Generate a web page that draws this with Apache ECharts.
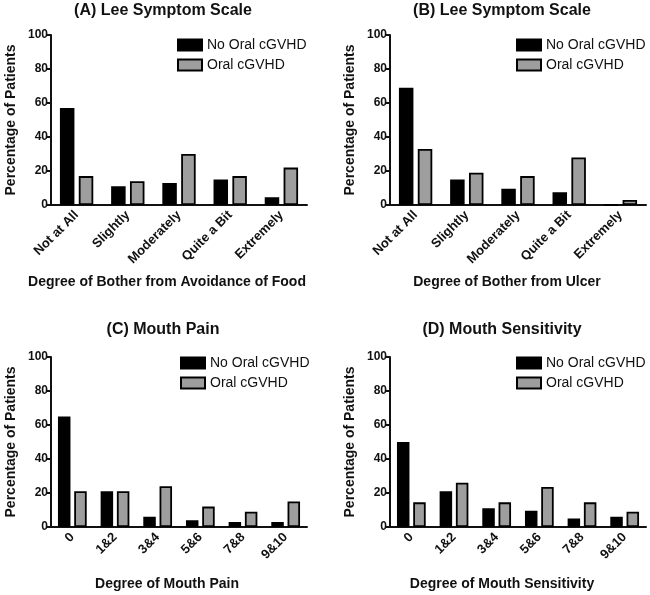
<!DOCTYPE html>
<html>
<head>
<meta charset="utf-8">
<script src="https://cdn.jsdelivr.net/npm/echarts@6/dist/echarts.min.js"></script>
<style>
html,body{margin:0;padding:0;background:#fff;}
#c{width:650px;height:595px;}
</style>
</head>
<body>
<div id="c"></div>
<script>
// ---- data ----
var catsBother = ['Not at All', 'Slightly', 'Moderately', 'Quite a Bit', 'Extremely'];
var catsScale = ['0', '1&2', '3&4', '5&6', '7&8', '9&10'];
var yTicks = [0, 20, 40, 60, 80, 100];

var foodNoOral = [57, 11, 13, 15, 4.5];
var foodOral = [17, 14, 30, 17, 22];
var ulcerNoOral = [69, 15, 9.5, 7.5, 0];
var ulcerOral = [33, 19, 17, 28, 3];
var painNoOral = [65, 21, 6, 4, 3, 3];
var painOral = [21, 21, 24, 12, 9, 15];
var sensNoOral = [50, 21, 11, 9.5, 5, 6];
var sensOral = [14.5, 26, 14.5, 23.5, 14.5, 9];

var seriesNames = ['No Oral cGVHD', 'Oral cGVHD'];
var panelTitles = ['(A) Lee Symptom Scale', '(B) Lee Symptom Scale', '(C) Mouth Pain', '(D) Mouth Sensitivity'];
var xNames = ['Degree of Bother from Avoidance of Food', 'Degree of Bother from Ulcer', 'Degree of Mouth Pain', 'Degree of Mouth Sensitivity'];
var yName = 'Percentage of Patients';

// ---- layout ----
var FONT = '"Liberation Sans", Arial, sans-serif';
var grids = [
  {left: 51, top: 35, width: 256, height: 170},
  {left: 390, top: 35, width: 256, height: 170},
  {left: 51, top: 357, width: 256, height: 170},
  {left: 390, top: 357, width: 256, height: 170}
];
var panelCats = [catsBother, catsBother, catsScale, catsScale];
var panelData = [[foodNoOral, foodOral], [ulcerNoOral, ulcerOral], [painNoOral, painOral], [sensNoOral, sensOral]];
var titleX = [163, 502, 163, 502];
var titleY = [3, 3, 322, 322];
var xNameX = [167, 507, 167, 502];
var xNameY = [275, 275, 577, 577];
var legendPos = [[177, 38], [516, 38], [180, 356], [516, 356]];
var barW = [14.5, 14.5, 12.5, 12.5];
var colors = ['#000000', '#9e9e9e'];

var titles = [], xAxes = [], yAxes = [], series = [], legends = [];
for (var i = 0; i < 4; i++) {
  titles.push({
    text: panelTitles[i], left: titleX[i], top: titleY[i], textAlign: 'center', padding: 0,
    textStyle: {fontFamily: FONT, fontWeight: 'bold', fontSize: 16, color: '#111'}
  });
  titles.push({
    text: xNames[i], left: xNameX[i], top: xNameY[i], textAlign: 'center', padding: 0,
    textStyle: {fontFamily: FONT, fontWeight: 'bold', fontSize: 14, color: '#111'}
  });
  xAxes.push({
    type: 'category', gridIndex: i, data: panelCats[i],
    axisLine: {lineStyle: {color: '#111', width: 2}},
    axisTick: {alignWithLabel: true, length: 5, lineStyle: {color: '#111', width: 2}},
    axisLabel: {rotate: 45, margin: 8, interval: 0, fontFamily: FONT, fontWeight: 'bold', fontSize: 13, color: '#111'},
    splitLine: {show: false}
  });
  yAxes.push({
    type: 'value', gridIndex: i, min: yTicks[0], max: yTicks[yTicks.length - 1], interval: 20,
    name: yName, nameLocation: 'middle', nameGap: 33,
    nameTextStyle: {fontFamily: FONT, fontWeight: 'bold', fontSize: 14, color: '#111'},
    axisLine: {show: true, lineStyle: {color: '#111', width: 2}},
    axisTick: {show: true, length: 5, lineStyle: {color: '#111', width: 2}},
    axisLabel: {margin: 3, fontFamily: FONT, fontWeight: 'bold', fontSize: 12, color: '#111'},
    splitLine: {show: false}
  });
  for (var s = 0; s < 2; s++) {
    series.push({
      type: 'bar', name: seriesNames[s], xAxisIndex: i, yAxisIndex: i,
      data: panelData[i][s], barWidth: barW[i], barGap: '30%',
      itemStyle: {color: colors[s], borderColor: '#000', borderWidth: 1.8},
      emphasis: {disabled: true}, animation: false
    });
  }
  legends.push({
    orient: 'vertical', left: legendPos[i][0], top: legendPos[i][1], padding: 0,
    itemWidth: 24, itemHeight: 11, itemGap: 6, icon: 'rect', selectedMode: false,
    data: seriesNames,
    textStyle: {fontFamily: FONT, fontSize: 14, color: '#111', padding: [0, 0, 0, 0]}
  });
}

var chart = echarts.init(document.getElementById('c'), null, {renderer: 'canvas'});
chart.setOption({
  backgroundColor: '#fff',
  animation: false,
  title: titles,
  legend: legends,
  grid: grids,
  xAxis: xAxes,
  yAxis: yAxes,
  series: series
});
</script>
</body>
</html>
